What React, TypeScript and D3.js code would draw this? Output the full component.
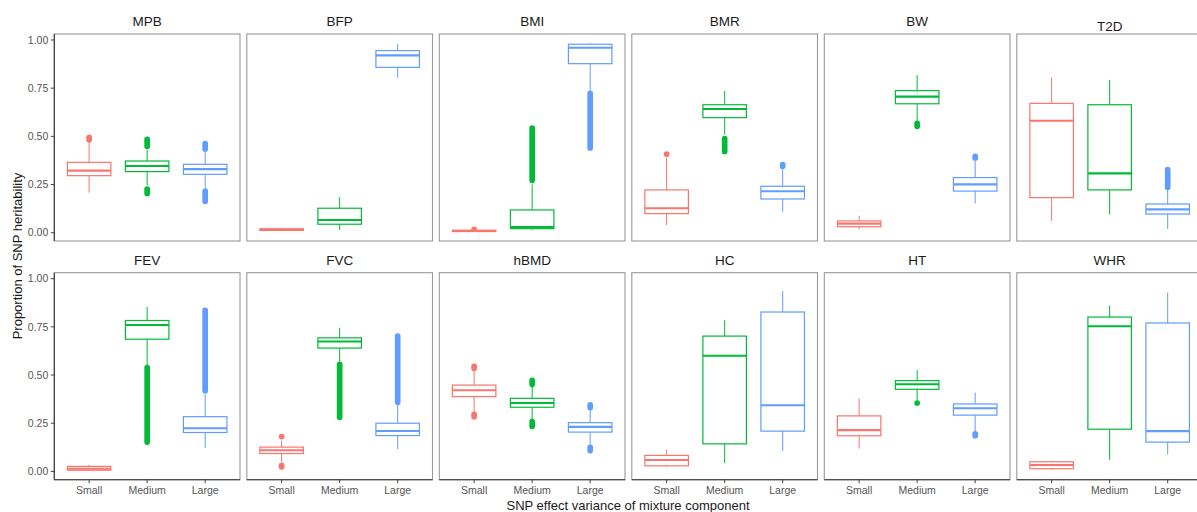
import React from "react";
import * as d3 from "d3";

const traits = ["MPB", "BFP", "BMI", "BMR", "BW", "T2D", "FEV", "FVC", "hBMD", "HC", "HT", "WHR"];
const sizes = ["Small", "Medium", "Large"];
const colors = ["#F8766D", "#00BA38", "#619CFF"];
const yTicks = [0, 0.25, 0.5, 0.75, 1];

// [lower whisker, Q1, median, Q3, upper whisker], one row per trait
const smallBox = [
  [0.208, 0.296, 0.322, 0.365, 0.47],
  [0.008, 0.012, 0.016, 0.02, 0.025],
  [0.004, 0.006, 0.009, 0.013, 0.016],
  [0.04, 0.099, 0.127, 0.222, 0.39],
  [0.018, 0.031, 0.047, 0.061, 0.087],
  [0.062, 0.182, 0.581, 0.671, 0.806],
  [0.003, 0.006, 0.014, 0.026, 0.035],
  [0.05, 0.093, 0.11, 0.126, 0.16],
  [0.305, 0.388, 0.421, 0.448, 0.525],
  [0.023, 0.029, 0.059, 0.083, 0.112],
  [0.119, 0.185, 0.214, 0.288, 0.379],
  [0.009, 0.014, 0.033, 0.05, 0.056],
];
const mediumBox = [
  [0.245, 0.317, 0.346, 0.372, 0.43],
  [0.014, 0.044, 0.066, 0.127, 0.184],
  [0.014, 0.021, 0.03, 0.118, 0.251],
  [0.51, 0.597, 0.642, 0.664, 0.735],
  [0.58, 0.669, 0.706, 0.737, 0.818],
  [0.095, 0.222, 0.308, 0.664, 0.792],
  [0.55, 0.686, 0.76, 0.783, 0.853],
  [0.57, 0.64, 0.674, 0.693, 0.745],
  [0.27, 0.333, 0.355, 0.379, 0.44],
  [0.043, 0.143, 0.6, 0.702, 0.784],
  [0.365, 0.426, 0.452, 0.471, 0.526],
  [0.06, 0.219, 0.753, 0.801, 0.86],
];
const largeBox = [
  [0.23, 0.303, 0.33, 0.355, 0.42],
  [0.804, 0.858, 0.92, 0.945, 0.979],
  [0.737, 0.877, 0.96, 0.978, 0.983],
  [0.109, 0.175, 0.215, 0.241, 0.33],
  [0.152, 0.216, 0.251, 0.286, 0.375],
  [0.019, 0.097, 0.121, 0.149, 0.222],
  [0.121, 0.202, 0.224, 0.284, 0.4],
  [0.116, 0.186, 0.21, 0.25, 0.345],
  [0.138, 0.204, 0.231, 0.253, 0.32],
  [0.105, 0.209, 0.343, 0.827, 0.936],
  [0.207, 0.292, 0.328, 0.35, 0.409],
  [0.088, 0.152, 0.209, 0.77, 0.929],
];

// runs of outliers [from, to]; dense runs look like thick bars
const smallOutliers = [
  [[0.482, 0.495]], [], [[0.018, 0.018]], [[0.408, 0.408]], [], [],
  [], [[0.024, 0.032], [0.181, 0.181]], [[0.535, 0.545], [0.284, 0.296]], [], [], [],
];
const mediumOutliers = [
  [[0.448, 0.484], [0.204, 0.226]], [], [[0.272, 0.543]], [[0.422, 0.488]], [[0.552, 0.568]], [],
  [[0.152, 0.538]], [[0.281, 0.555]], [[0.452, 0.472], [0.234, 0.258]], [], [[0.355, 0.355]], [],
];
const largeOutliers = [
  [[0.434, 0.462], [0.163, 0.216]], [], [[0.44, 0.723]], [[0.345, 0.353]], [[0.388, 0.396]], [[0.236, 0.328]],
  [[0.419, 0.836]], [[0.359, 0.702]], [[0.331, 0.346], [0.108, 0.125]], [], [[0.185, 0.195]], [],
];

const boxes = [smallBox, mediumBox, largeBox];
const outliers = [smallOutliers, mediumOutliers, largeOutliers];

const W = 1197;
const H = 512;
const panelLeft = 54.3;
const panelStep = 192.5;
const panelW = 185.7;
const rowTop = [34, 272.7];
const panelH = 207;
const font = "'Liberation Sans', Arial, Helvetica, sans-serif";

export default function App() {
  const x = d3.scalePoint<string>().domain(sizes).range([0, panelW]).padding(0.6);
  const boxW = x.step() * 0.75;

  return (
    <svg width={W} height={H} style={{ position: "absolute", left: 0, top: 0, background: "#fff" }} fontFamily={font}>
      {traits.map((trait, ti) => {
        const row = Math.floor(ti / 6);
        const col = ti % 6;
        const left = panelLeft + col * panelStep;
        const top = rowTop[row];
        const y = d3.scaleLinear().domain([-0.043, 1.031]).range([top + panelH, top]);
        return (
          <g key={trait}>
            <text
              x={left + panelW / 2}
              y={top - (trait === "T2D" ? 3.5 : 8)}
              textAnchor="middle"
              fontSize={13.5}
              fill="#1a1a1a"
            >
              {trait}
            </text>
            <rect x={left} y={top} width={panelW} height={panelH} fill="none" stroke="#999" strokeWidth={1.1} />
            {sizes.map((s, si) => {
              const [lo, q1, med, q3, hi] = boxes[si][ti];
              const cx = left + (x(s) as number);
              const c = colors[si];
              return (
                <g key={s}>
                  <line x1={cx} x2={cx} y1={y(hi)} y2={y(q3)} stroke={c} strokeWidth={1} />
                  <line x1={cx} x2={cx} y1={y(q1)} y2={y(lo)} stroke={c} strokeWidth={1} />
                  <rect
                    x={cx - boxW / 2}
                    y={y(q3)}
                    width={boxW}
                    height={Math.max(y(q1) - y(q3), 0.5)}
                    fill="#fff"
                    stroke={c}
                    strokeWidth={1.2}
                  />
                  <line x1={cx - boxW / 2} x2={cx + boxW / 2} y1={y(med)} y2={y(med)} stroke={c} strokeWidth={2.1} />
                  {outliers[si][ti].map(([a, b], oi) => (
                    <line
                      key={oi}
                      x1={cx}
                      x2={cx}
                      y1={y(a)}
                      y2={y(b) - (a === b ? 0.01 : 0)}
                      stroke={c}
                      strokeWidth={5.7}
                      strokeLinecap="round"
                    />
                  ))}
                </g>
              );
            })}
            {col === 0 && (
              <g>
                <line x1={left} x2={left} y1={top} y2={top + panelH} stroke="#333" strokeWidth={1.1} />
                {yTicks.map((t) => (
                  <g key={t}>
                    <line x1={left - 3.5} x2={left} y1={y(t)} y2={y(t)} stroke="#444" strokeWidth={1} />
                    <text x={left - 6} y={y(t)} dy="0.35em" textAnchor="end" fontSize={10.5} fill="#555">
                      {d3.format(".2f")(t)}
                    </text>
                  </g>
                ))}
              </g>
            )}
            {row === 1 && (
              <g>
                <line x1={left} x2={left + panelW} y1={top + panelH} y2={top + panelH} stroke="#333" strokeWidth={1.1} />
                {sizes.map((s) => (
                  <g key={s}>
                    <line
                      x1={left + (x(s) as number)}
                      x2={left + (x(s) as number)}
                      y1={top + panelH}
                      y2={top + panelH + 3.5}
                      stroke="#444"
                      strokeWidth={1}
                    />
                    <text
                      x={left + (x(s) as number)}
                      y={top + panelH + 14.5}
                      textAnchor="middle"
                      fontSize={10.5}
                      fill="#555"
                    >
                      {s}
                    </text>
                  </g>
                ))}
              </g>
            )}
          </g>
        );
      })}
      <text x={628} y={510} textAnchor="middle" fontSize={13} fill="#1a1a1a">
        SNP effect variance of mixture component
      </text>
      <text transform="translate(21.5,256) rotate(-90)" textAnchor="middle" fontSize={13} fill="#1a1a1a">
        Proportion of SNP heritability
      </text>
    </svg>
  );
}
